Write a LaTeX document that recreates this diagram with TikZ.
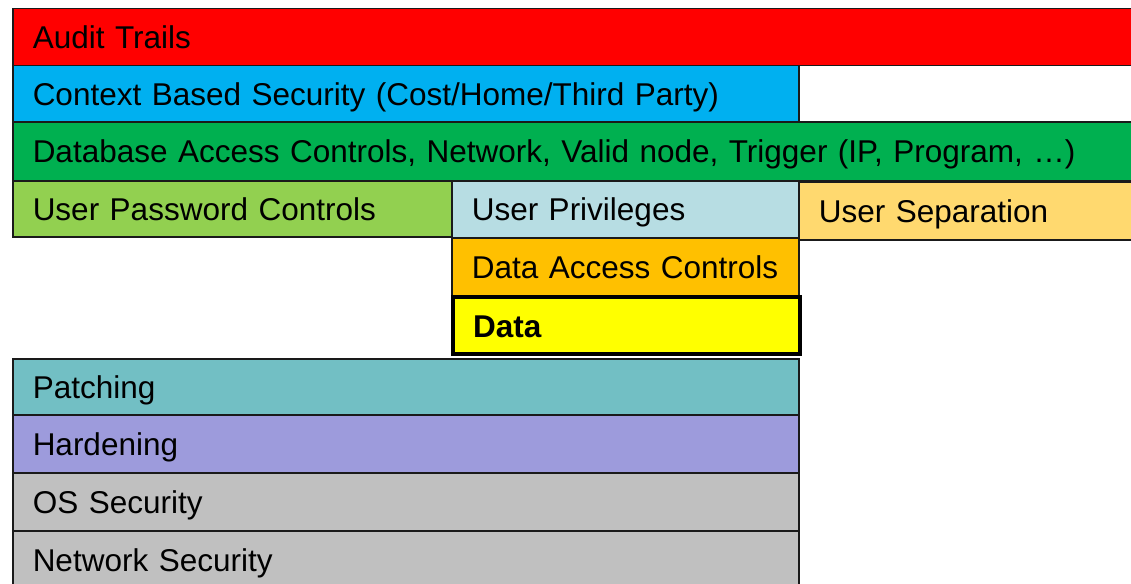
\documentclass[tikz,border=0pt]{standalone}
\usepackage{fontspec}
\setmainfont{Liberation Sans}
\definecolor{cRed}{HTML}{FF0000}
\definecolor{cBlue}{HTML}{00B0F0}
\definecolor{cGreen}{HTML}{00B050}
\definecolor{cLGreen}{HTML}{92D050}
\definecolor{cLBlue}{HTML}{B7DDE3}
\definecolor{cSep}{HTML}{FFD96F}
\definecolor{cOrange}{HTML}{FFC000}
\definecolor{cYellow}{HTML}{FFFF00}
\definecolor{cTeal}{HTML}{72BFC4}
\definecolor{cPurple}{HTML}{9D9BDC}
\definecolor{cGray}{HTML}{C0C0C0}
\definecolor{cEdge}{HTML}{1A1A1A}
\tikzset{
  layer/.style={draw=cEdge, line width=1.5pt, anchor=north west, inner xsep=20pt, inner ysep=0pt,
    text height=23pt, text depth=0pt, font=\fontsize{31.5}{36}\selectfont, align=left},
}
\begin{document}
\begin{tikzpicture}[x=1pt,y=-1pt]
\useasboundingbox (0,0) rectangle (1131,583);
\clip (0,0) rectangle (1131,583);
\node[layer, fill=cRed, minimum width=1130pt, minimum height=57pt, text width=1090pt] (audit) at (12,8) {Audit Trails};
\node[layer, fill=cBlue, minimum width=786pt, minimum height=56pt, text width=746pt] (context) at (12,65) {Context Based Security (Cost/Home/Third Party)};
\node[layer, fill=cGreen, minimum width=1130pt, minimum height=59pt, text width=1090pt] (dbac) at (12,121) {Database Access Controls, Network, Valid node, Trigger (IP, Program, …)};
\node[layer, fill=cLGreen, minimum width=439pt, minimum height=56pt, text width=399pt] (upw) at (12,180) {User Password Controls};
\node[layer, fill=cLBlue, minimum width=347pt, minimum height=57pt, text width=307pt] (upriv) at (451,180) {User Privileges};
\node[layer, fill=cSep, minimum width=344pt, minimum height=58pt, text width=304pt] (usep) at (798,181) {User Separation};
\node[layer, fill=cOrange, minimum width=347pt, minimum height=58pt, text width=307pt] (dac) at (451,237) {Data Access Controls};
\node[layer, fill=cYellow, draw=black, line width=4pt, minimum width=347pt, minimum height=57pt, text width=307pt, font=\fontsize{31.5}{36}\selectfont\bfseries] (data) at (451,295) {Data};
\node[layer, fill=cTeal, minimum width=786pt, minimum height=56pt, text width=746pt] (patch) at (12,358) {Patching};
\node[layer, fill=cPurple, minimum width=786pt, minimum height=58pt, text width=746pt] (hard) at (12,414) {Hardening};
\node[layer, fill=cGray, minimum width=786pt, minimum height=58pt, text width=746pt] (os) at (12,472) {OS Security};
\node[layer, fill=cGray, minimum width=786pt, minimum height=58pt, text width=746pt] (net) at (12,530) {Network Security};
\end{tikzpicture}
\end{document}
